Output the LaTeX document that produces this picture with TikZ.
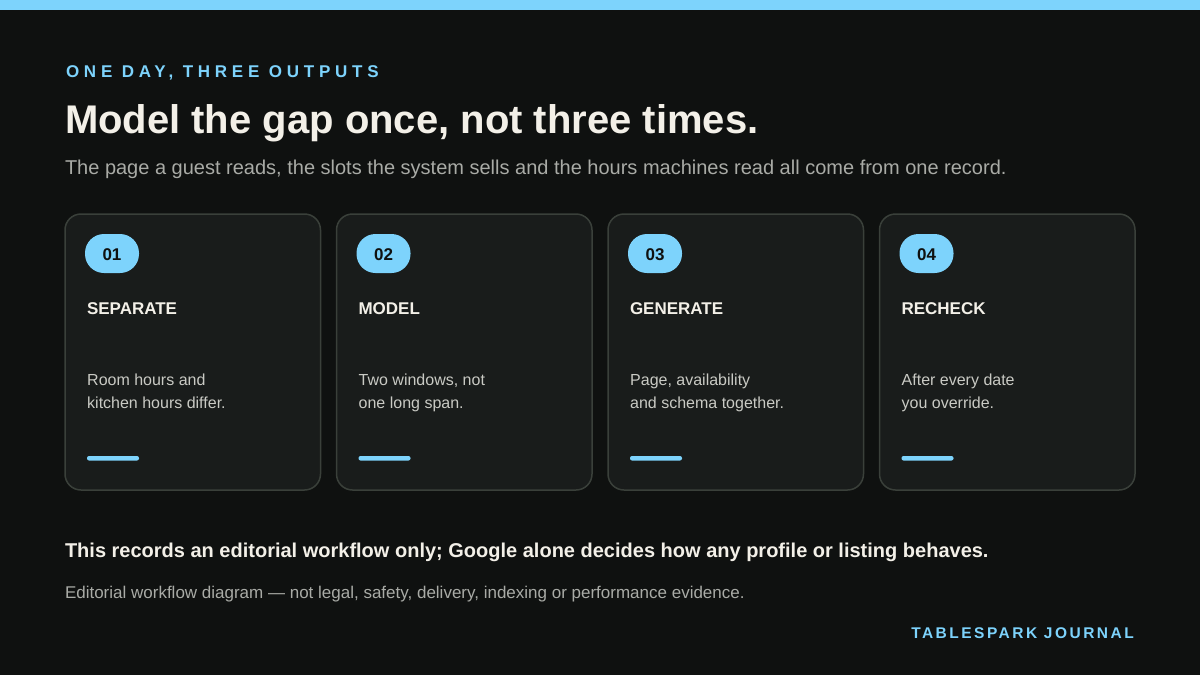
\documentclass[tikz,border=0pt]{standalone}
\usepackage{fontspec}
\setmainfont{Liberation Sans}
\definecolor{bg}{HTML}{0F1110}
\definecolor{sky}{HTML}{7DD3FC}
\definecolor{cream}{HTML}{F3F0E8}
\definecolor{subgray}{HTML}{A9ABA6}
\definecolor{bodygray}{HTML}{C9CAC4}
\definecolor{cardfill}{HTML}{191C1B}
\definecolor{cardline}{HTML}{3A403A}
\definecolor{pilltext}{HTML}{0F1110}
\tikzset{
  txt/.style={anchor=base west, inner sep=0pt, outer sep=0pt},
  card/.style={draw=cardline, line width=1.5pt, fill=cardfill, rounded corners=16pt},
  pill/.style={fill=sky, rounded corners=19pt},
  accent/.style={fill=sky, rounded corners=2pt},
  pillnum/.style={anchor=center, inner sep=0pt, text=pilltext, font=\fontsize{17}{17}\selectfont\bfseries},
  cardtitle/.style={txt, text=cream, font=\fontsize{17}{17}\selectfont\bfseries},
  cardbody/.style={anchor=base west, inner sep=0pt, align=left, text=bodygray, font=\fontsize{16}{23}\selectfont},
}
\begin{document}
\begin{tikzpicture}[x=1pt,y=-1pt]
\useasboundingbox (0,0) rectangle (1200,675);
\fill[bg] (0,0) rectangle (1200,675);
\fill[sky] (0,0) rectangle (1200,10);
\node[txt, text=sky, font=\fontsize{17}{17}\selectfont\bfseries\addfontfeature{LetterSpace=28}] (eyebrow) at (66,77) {ONE DAY, THREE OUTPUTS};
\node[txt, text=cream, font=\fontsize{40}{40}\selectfont\bfseries] (title) at (65,133) {Model the gap once, not three times.};
\node[txt, text=subgray, font=\fontsize{20}{20}\selectfont] (sub) at (65,174) {The page a guest reads, the slots the system sells and the hours machines read all come from one record.};
% card 1
\draw[card] (65,214) rectangle (320.5,490);
\fill[pill] (85,234) rectangle (139,273);
\node[pillnum] (num1) at (112,255) {01};
\node[cardtitle] (ct1) at (87,314) {SEPARATE};
\node[cardbody] (cb1) at (87,408.5) {Room hours and\\kitchen hours differ.};
\fill[accent] (87,456) rectangle (139,460.5);
% card 2
\draw[card] (336.5,214) rectangle (592,490);
\fill[pill] (356.5,234) rectangle (410.5,273);
\node[pillnum] (num2) at (383.5,255) {02};
\node[cardtitle] (ct2) at (358.5,314) {MODEL};
\node[cardbody] (cb2) at (358.5,408.5) {Two windows, not\\one long span.};
\fill[accent] (358.5,456) rectangle (410.5,460.5);
% card 3
\draw[card] (608,214) rectangle (863.5,490);
\fill[pill] (628,234) rectangle (682,273);
\node[pillnum] (num3) at (655,255) {03};
\node[cardtitle] (ct3) at (630,314) {GENERATE};
\node[cardbody] (cb3) at (630,408.5) {Page, availability\\and schema together.};
\fill[accent] (630,456) rectangle (682,460.5);
% card 4
\draw[card] (879.5,214) rectangle (1135,490);
\fill[pill] (899.5,234) rectangle (953.5,273);
\node[pillnum] (num4) at (926.5,255) {04};
\node[cardtitle] (ct4) at (901.5,314) {RECHECK};
\node[cardbody] (cb4) at (901.5,408.5) {After every date\\you override.};
\fill[accent] (901.5,456) rectangle (953.5,460.5);
\node[txt, text=cream, font=\fontsize{20}{20}\selectfont\bfseries] (note) at (65,557) {This records an editorial workflow only; Google alone decides how any profile or listing behaves.};
\node[txt, text=subgray, font=\fontsize{17}{17}\selectfont] (foot) at (65,598.5) {Editorial workflow diagram — not legal, safety, delivery, indexing or performance evidence.};
\node[anchor=base east, inner sep=0pt, text=sky, font=\fontsize{15.5}{15.5}\selectfont\bfseries\addfontfeature{LetterSpace=16}] (brand) at (1134,638) {TABLESPARK JOURNAL};
\end{tikzpicture}
\end{document}
